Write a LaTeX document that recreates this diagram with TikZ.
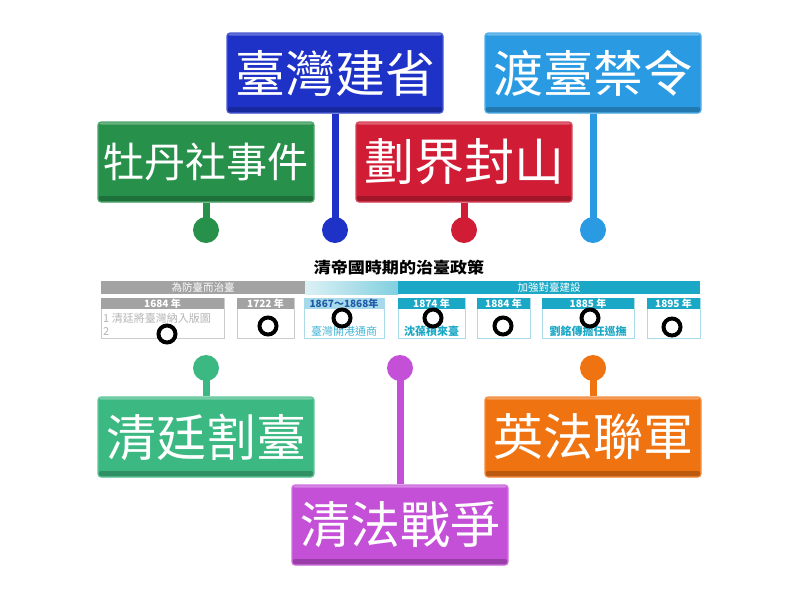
\documentclass[tikz,border=0pt]{standalone}
\usepackage{fontspec}
\newfontfamily\cjk{Noto Sans CJK TC}
\usepackage{xcolor}
\usepackage{tikz}
\usetikzlibrary{positioning}
\pgfdeclarelayer{nodelayer}
\pgfdeclarelayer{edgelayer}
\pgfsetlayers{nodelayer,edgelayer,main}

\definecolor{mudan}{HTML}{27904A}
\definecolor{province}{HTML}{1E32C8}
\definecolor{boundary}{HTML}{D01C34}
\definecolor{crossing}{HTML}{2A9BE2}
\definecolor{cession}{HTML}{3CB982}
\definecolor{sinofr}{HTML}{C450D8}
\definecolor{allied}{HTML}{F07312}
\definecolor{bargray}{HTML}{A3A3A3}
\definecolor{cardline}{HTML}{CCCCCC}
\definecolor{barteal}{HTML}{1BA8C6}
\definecolor{tealline}{HTML}{A9DBE8}
\definecolor{palehead}{HTML}{A6D9EA}
\definecolor{deepblue}{HTML}{1E5AA8}
\definecolor{softteal}{HTML}{45B5D5}

\tikzset{
  tile/.style={rectangle, rounded corners=3pt, minimum width=216pt, minimum height=80pt,
    inner sep=0pt, fill=#1, draw=#1!80!white, line width=1.2pt, text=white,
    path picture={
      \fill[#1!78!black] ([yshift=6pt]path picture bounding box.south west) rectangle (path picture bounding box.south east);
      \fill[#1!70!white] (path picture bounding box.north west) rectangle ([yshift=-2.5pt]path picture bounding box.north east);}},
  pin/.style={circle, fill=#1, inner sep=0pt, minimum size=26pt},
  stem/.style={draw=#1, line width=7pt},
  ring/.style={circle, draw=black, fill=white, line width=4pt, inner sep=0pt, minimum size=17pt},
  card/.style={rectangle, draw=#1, fill=white, line width=0.8pt, inner sep=0pt, minimum height=40pt},
  cardhead/.style={rectangle, fill=#1, inner sep=0pt, minimum height=11pt, text=white,
    font=\cjk\bfseries\fontsize{10}{10}\selectfont},
  bar/.style={rectangle, fill=#1, inner sep=0pt, minimum height=13pt, text=white,
    font=\cjk\fontsize{10.5}{10.5}\selectfont},
  four/.style={font=\cjk\fontsize{50}{50}\selectfont},
  five/.style={font=\cjk\fontsize{41}{41}\selectfont},
  small/.style={font=\cjk\fontsize{11}{11}\selectfont, inner sep=0pt}
}

\begin{document}
\begin{tikzpicture}[x=1pt, y=-1pt]
  \useasboundingbox (0, 0) rectangle (800, 600);
  \begin{pgfonlayer}{nodelayer}
    % label tiles
    \node [tile=mudan, five] (0) at (206, 162) {牡丹社事件};
    \node [tile=province, four] (1) at (335, 73) {臺灣建省};
    \node [tile=boundary, four] (2) at (464, 162) {劃界封山};
    \node [tile=crossing, four] (3) at (593, 73) {渡臺禁令};
    \node [tile=cession, four] (4) at (206, 437) {清廷割臺};
    \node [tile=sinofr, four] (5) at (400, 525) {清法戰爭};
    \node [tile=allied, four] (6) at (593, 437) {英法聯軍};
    \node [pin=mudan] (7) at (206, 230) {};
    \node [pin=province] (8) at (335, 230) {};
    \node [pin=boundary] (9) at (464, 230) {};
    \node [pin=crossing] (10) at (593, 230) {};
    \node [pin=cession] (11) at (206, 368) {};
    \node [pin=sinofr] (12) at (400, 368) {};
    \node [pin=allied] (13) at (593, 368) {};
    % timeline
    \node [font=\cjk\bfseries\fontsize{15.5}{15.5}\selectfont, xscale=1.1, transform shape] (14) at (399, 268) {清帝國時期的治臺政策};
    \node [bar=bargray, minimum width=204pt] (15) at (203, 287.5) {為防臺而治臺};
    \node [rectangle, inner sep=0pt, minimum width=93pt, minimum height=13pt, left color=tealline!40!white, right color=barteal!55!white] (16) at (351.5, 287.5) {};
    \node [bar=barteal, minimum width=302pt] (17) at (549, 287.5) {加強對臺建設};
    \node [card=cardline, minimum width=123pt] (18) at (162.5, 318) {};
    \node [card=cardline, minimum width=57pt] (19) at (265.5, 318) {};
    \node [card=tealline, minimum width=80pt] (20) at (344, 318) {};
    \node [card=tealline, minimum width=67pt] (21) at (431.5, 318) {};
    \node [card=tealline, minimum width=53pt] (22) at (503.5, 318) {};
    \node [card=tealline, minimum width=92pt] (23) at (588, 318) {};
    \node [card=tealline, minimum width=53pt] (24) at (673.5, 318) {};
    \node [cardhead=bargray, minimum width=123pt] (25) at (162.5, 303.5) {1684 年};
    \node [cardhead=bargray, minimum width=57pt] (26) at (265.5, 303.5) {1722 年};
    \node [cardhead=palehead, minimum width=80pt, text=deepblue] (27) at (344, 303.5) {1867～1868年};
    \node [cardhead=barteal, minimum width=67pt] (28) at (431.5, 303.5) {1874 年};
    \node [cardhead=barteal, minimum width=53pt] (29) at (503.5, 303.5) {1884 年};
    \node [cardhead=barteal, minimum width=92pt] (30) at (588, 303.5) {1885 年};
    \node [cardhead=barteal, minimum width=53pt] (31) at (673.5, 303.5) {1895 年};
    \node [small, text=bargray!80!white, anchor=west] (32) at (103, 318) {1 清廷將臺灣納入版圖};
    \node [small, text=bargray!80!white, anchor=west] (33) at (103, 331) {2};
    \node [small, text=softteal] (34) at (344, 331) {臺灣開港通商};
    \node [small, text=barteal, font=\cjk\bfseries\fontsize{11}{11}\selectfont] (35) at (431.5, 331) {沈葆楨來臺};
    \node [small, text=barteal, font=\cjk\bfseries\fontsize{11}{11}\selectfont] (36) at (588, 331) {劉銘傳擔任巡撫};
  \end{pgfonlayer}
  \begin{pgfonlayer}{edgelayer}
    \draw [stem=mudan] (0) to (7.center);
    \draw [stem=province] (1) to (8.center);
    \draw [stem=boundary] (2) to (9.center);
    \draw [stem=crossing] (3) to (10.center);
    \draw [stem=cession] (4) to (11.center);
    \draw [stem=sinofr] (5) to (12.center);
    \draw [stem=allied] (6) to (13.center);
  \end{pgfonlayer}
  % drop targets
  \node [ring] (37) at (167, 334) {};
  \node [ring] (38) at (268, 326) {};
  \node [ring] (39) at (342, 318) {};
  \node [ring] (40) at (433, 318) {};
  \node [ring] (41) at (503, 326) {};
  \node [ring] (42) at (590, 318) {};
  \node [ring] (43) at (672, 327) {};
\end{tikzpicture}
\end{document}
